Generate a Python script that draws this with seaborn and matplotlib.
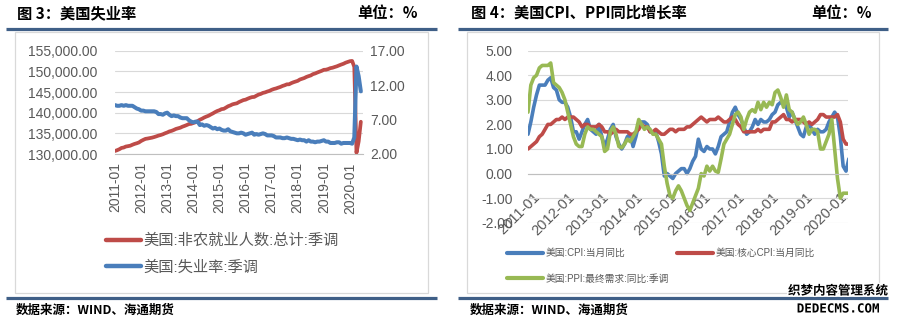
import numpy as np
import pandas as pd
import matplotlib
matplotlib.use("Agg")
import matplotlib.pyplot as plt
import seaborn as sns
import matplotlib.transforms as mtransforms
import matplotlib.patheffects as pe
from matplotlib.lines import Line2D
from matplotlib.patches import Rectangle
from matplotlib.ticker import FuncFormatter, FixedLocator

# ---------------- data ----------------
months = pd.period_range("2011-01", "2020-06", freq="M").strftime("%Y-%m").tolist()
year_ticks = ["2011-01", "2012-01", "2013-01", "2014-01", "2015-01",
              "2016-01", "2017-01", "2018-01", "2019-01", "2020-01"]

payrolls = [
    130733, 130922, 131157, 131467, 131568, 131808, 131902, 132006, 132240, 132444, 132600, 132794,
    133150, 133420, 133659, 133745, 133851, 133955, 134102, 134273, 134458, 134599, 134775, 135014,
    135204, 135464, 135597, 135812, 136064, 136216, 136364, 136614, 136801, 137015, 137247, 137306,
    137493, 137681, 137966, 138296, 138532, 138830, 139060, 139260, 139557, 139825, 140141, 140404,
    140592, 140861, 140934, 141236, 141559, 141756, 142016, 142158, 142265, 142575, 142804, 143043,
    143150, 143387, 143605, 143773, 143812, 144109, 144381, 144539, 144788, 144915, 145119, 145276,
    145535, 145727, 145862, 146055, 146228, 146467, 146636, 146858, 146872, 147143, 147359, 147534,
    147705, 148033, 148210, 148386, 148654, 148845, 149015, 149330, 149488, 149720, 149924, 150124,
    150373, 150406, 150564, 150776, 150881, 151058, 151224, 151444, 151652, 151837, 152098, 152282,
    152463, 152523, 151090, 130303, 133028, 137802]

unemployment = [
    9.1, 9.0, 9.0, 9.1, 9.0, 9.1, 9.0, 9.0, 9.0, 8.8, 8.6, 8.5,
    8.3, 8.3, 8.2, 8.2, 8.2, 8.2, 8.2, 8.1, 7.8, 7.8, 7.7, 7.9,
    8.0, 7.7, 7.5, 7.6, 7.5, 7.5, 7.3, 7.2, 7.2, 7.2, 6.9, 6.7,
    6.6, 6.7, 6.7, 6.2, 6.3, 6.1, 6.2, 6.1, 5.9, 5.7, 5.8, 5.6,
    5.7, 5.5, 5.4, 5.4, 5.6, 5.3, 5.2, 5.1, 5.0, 5.0, 5.1, 5.0,
    4.8, 4.9, 5.0, 5.1, 4.8, 4.9, 4.8, 4.9, 5.0, 4.9, 4.7, 4.7,
    4.7, 4.6, 4.4, 4.4, 4.4, 4.3, 4.3, 4.4, 4.3, 4.2, 4.2, 4.1,
    4.0, 4.1, 4.0, 4.0, 3.8, 4.0, 3.8, 3.8, 3.7, 3.8, 3.8, 3.9,
    4.0, 3.8, 3.8, 3.6, 3.6, 3.6, 3.7, 3.7, 3.5, 3.6, 3.6, 3.6,
    3.6, 3.5, 4.4, 14.7, 13.3, 11.1]

cpi = [
    1.6, 2.1, 2.7, 3.2, 3.6, 3.6, 3.6, 3.8, 3.9, 3.5, 3.4, 3.0,
    2.9, 2.9, 2.7, 2.3, 1.7, 1.7, 1.4, 1.7, 2.0, 2.2, 1.8, 1.7,
    1.6, 2.0, 1.5, 1.1, 1.4, 1.8, 2.0, 1.5, 1.2, 1.0, 1.2, 1.5,
    1.6, 1.1, 1.5, 2.0, 2.1, 2.1, 2.0, 1.7, 1.7, 1.7, 1.3, 0.8,
    -0.1, 0.0, -0.1, -0.2, 0.0, 0.1, 0.2, 0.2, 0.0, 0.2, 0.5, 0.7,
    1.4, 1.0, 0.9, 1.1, 1.0, 1.0, 0.8, 1.1, 1.5, 1.6, 1.7, 2.1,
    2.5, 2.7, 2.4, 2.2, 1.9, 1.6, 1.7, 1.9, 2.2, 2.0, 2.2, 2.1,
    2.1, 2.2, 2.4, 2.5, 2.8, 2.9, 2.9, 2.7, 2.3, 2.5, 2.2, 1.9,
    1.6, 1.5, 1.9, 2.0, 1.8, 1.6, 1.8, 1.7, 1.7, 1.8, 2.1, 2.3,
    2.5, 2.3, 1.5, 0.3, 0.1, 0.6]

core_cpi = [
    1.0, 1.1, 1.2, 1.3, 1.5, 1.6, 1.8, 2.0, 2.0, 2.1, 2.2, 2.2,
    2.3, 2.2, 2.3, 2.3, 2.3, 2.2, 2.1, 1.9, 2.0, 2.0, 1.9, 1.9,
    1.9, 2.0, 1.9, 1.7, 1.7, 1.6, 1.7, 1.8, 1.7, 1.7, 1.7, 1.7,
    1.6, 1.6, 1.7, 1.8, 2.0, 1.9, 1.9, 1.7, 1.7, 1.8, 1.7, 1.6,
    1.6, 1.7, 1.8, 1.8, 1.7, 1.8, 1.8, 1.8, 1.9, 1.9, 2.0, 2.1,
    2.2, 2.3, 2.2, 2.1, 2.2, 2.2, 2.2, 2.3, 2.2, 2.1, 2.1, 2.2,
    2.3, 2.2, 2.0, 1.9, 1.7, 1.7, 1.7, 1.7, 1.7, 1.8, 1.7, 1.8,
    1.8, 1.8, 2.1, 2.1, 2.2, 2.3, 2.4, 2.2, 2.2, 2.1, 2.2, 2.2,
    2.2, 2.1, 2.0, 2.1, 2.0, 2.1, 2.2, 2.4, 2.4, 2.3, 2.3, 2.3,
    2.3, 2.4, 2.1, 1.4, 1.2, 1.2]

ppi = [
    2.5, 3.6, 3.9, 4.0, 4.3, 4.4, 4.4, 4.4, 4.5, 3.7, 3.6, 3.5,
    3.3, 3.0, 2.5, 2.0, 1.5, 1.2, 1.1, 1.1, 1.6, 1.9, 1.8, 1.8,
    1.7, 1.6, 1.5, 0.9, 1.0, 1.7, 1.9, 1.6, 1.1, 1.05, 1.2, 1.4,
    1.3, 1.5, 1.7, 2.2, 2.0, 1.8, 1.9, 1.8, 1.6, 1.6, 1.4, 1.2,
    0.3, -0.4, -0.9, -1.0, -0.7, -0.5, -0.7, -1.0, -1.3, -1.5, -1.2, -0.9,
    -0.6, 0.0, -0.1, 0.3, 0.1, 0.3, 0.1, 0.05, 0.6, 1.2, 1.4, 1.6,
    2.0, 2.4, 2.5, 2.3, 1.8, 2.2, 2.5, 2.6, 2.5, 2.9, 2.6, 2.9,
    2.7, 2.9, 2.8, 3.3, 3.4, 3.1, 2.7, 3.2, 2.6, 2.5, 2.2, 2.0,
    2.1, 2.3, 2.0, 1.6, 1.8, 1.8, 1.7, 1.0, 1.0, 1.3, 1.6, 2.2,
    1.0, -0.2, -1.0, -0.8, -0.8, -0.8]

df = pd.DataFrame({"month": months, "m": np.arange(len(months)),
                   "payrolls": payrolls, "unemployment": unemployment,
                   "cpi": cpi, "core_cpi": core_cpi, "ppi": ppi})

# ---------------- style ----------------
sns.set_style("white")
plt.rcParams['font.family'] = ['Liberation Sans', 'Noto Sans CJK SC']
plt.rcParams['axes.unicode_minus'] = False

RED = "#BE4B48"
BLUE = "#4A7EBB"
GREEN = "#98B954"
GRID = "#D9D9D9"
AXC = "#BFBFBF"
TXT = "#595959"
RULE = "#3F5F87"
CJK_B = ['Noto Sans CJK SC']

W, H = 897, 323
fig = plt.figure(figsize=(W / 100, H / 100), dpi=100)
fig.patch.set_facecolor("white")


def rect(x0, y0, x1, y1):
    return [x0 / W, 1 - y1 / H, (x1 - x0) / W, (y1 - y0) / H]


def fx(x):
    return x / W


def fy(y):
    return 1 - y / H


# frames and rules
for (x0, x1) in [(15, 428), (467, 879)]:
    fig.add_artist(Rectangle((fx(x0), fy(293)), fx(x1) - fx(x0), fy(32) - fy(293),
                             transform=fig.transFigure, fill=False,
                             edgecolor="#D9D9D9", lw=0.9, zorder=0))
for (x0, x1) in [(6, 437), (458, 888)]:
    for y in (29, 298):
        fig.add_artist(Line2D([fx(x0), fx(x1)], [fy(y), fy(y)], transform=fig.transFigure,
                              color=RULE, lw=2.3, solid_capstyle="butt"))

# titles
fig.text(fx(17), fy(13), "图 3：美国失业率", family=CJK_B, weight="bold", fontsize=11,
         va="center", ha="left", color="black")
fig.text(fx(418), fy(13), "单位：%", family=CJK_B, weight="bold", fontsize=11,
         va="center", ha="right", color="black")
fig.text(fx(471), fy(13), "图 4：美国CPI、PPI同比增长率", family=CJK_B, weight="bold",
         fontsize=11, va="center", ha="left", color="black")
fig.text(fx(872), fy(13), "单位：%", family=CJK_B, weight="bold", fontsize=11,
         va="center", ha="right", color="black")
fig.text(fx(16), fy(310), "数据来源：WIND、海通期货", family=CJK_B, weight="bold", fontsize=9,
         va="center", ha="left", color="black")
fig.text(fx(470), fy(310), "数据来源：WIND、海通期货", family=CJK_B, weight="bold", fontsize=9,
         va="center", ha="left", color="black")

# ---------------- left chart ----------------
ax1 = fig.add_axes(rect(115, 50.7, 363, 154))
sns.lineplot(data=df, x="m", y="payrolls", ax=ax1, color=RED, lw=2.7,
             label="美国:非农就业人数:总计:季调", legend=False)
ax1.set_xlim(0, 114)
ax1.set_ylim(130000, 155000)
ax1.yaxis.set_major_locator(FixedLocator(list(range(130000, 155001, 5000))))
ax1.yaxis.set_major_formatter(FuncFormatter(lambda v, p: f"{v:,.2f}"))
ax1.grid(axis="y", color=GRID, lw=0.8)
ax1.set_axisbelow(True)
ax1.set_xticks([months.index(t) for t in year_ticks])
ax1.set_xticklabels(year_ticks, rotation=90, va="top", ha="center")
ax1.tick_params(axis="x", direction="out", length=4, width=0.8, color=AXC, pad=2,
                labelsize=10, labelcolor=TXT)
ax1.tick_params(axis="y", length=0, pad=13, labelsize=10, labelcolor=TXT)
for s in ("top", "left", "right"):
    ax1.spines[s].set_visible(False)
ax1.spines["bottom"].set_color(AXC)
ax1.spines["bottom"].set_linewidth(0.8)
ax1.set_xlabel("")
ax1.set_ylabel("")

ax2 = ax1.twinx()
sns.lineplot(data=df, x="m", y="unemployment", ax=ax2, color=BLUE, lw=2.9,
             label="美国:失业率:季调", legend=False)
ax2.set_ylim(2, 17)
ax2.yaxis.set_major_locator(FixedLocator([2, 7, 12, 17]))
ax2.yaxis.set_major_formatter(FuncFormatter(lambda v, p: f"{v:.2f}"))
ax2.tick_params(axis="y", length=0, pad=5, labelsize=10, labelcolor=TXT)
for s in ("top", "left", "right", "bottom"):
    ax2.spines[s].set_visible(False)
ax2.set_ylabel("")
ax2.set_xlim(0, 114)

h1 = ax1.get_lines()[0]
h2 = ax2.get_lines()[0]
leg1 = fig.legend([h1, h2], ["美国:非农就业人数:总计:季调", "美国:失业率:季调"],
                  loc="upper left", bbox_to_anchor=(fx(101), fy(229)), frameon=False,
                  fontsize=11, handlelength=2.3, handletextpad=0.15, labelspacing=0.8,
                  borderaxespad=0, borderpad=0.3)
for t in leg1.get_texts():
    t.set_color(TXT)
for l in leg1.get_lines():
    l.set_linewidth(3.2)

# ---------------- right chart ----------------
ax3 = fig.add_axes(rect(528, 50.7, 848, 222.7))
sns.lineplot(data=df, x="m", y="cpi", ax=ax3, color=BLUE, lw=2.6)
sns.lineplot(data=df, x="m", y="core_cpi", ax=ax3, color=RED, lw=2.6)
sns.lineplot(data=df, x="m", y="ppi", ax=ax3, color=GREEN, lw=2.6)
ax3.set_xlim(0, 112.7)
ax3.set_ylim(-2, 5)
ax3.yaxis.set_major_locator(FixedLocator(list(range(-2, 6))))
ax3.yaxis.set_major_formatter(FuncFormatter(lambda v, p: f"{v:.2f}"))
ax3.grid(axis="y", color=GRID, lw=0.8)
ax3.set_axisbelow(True)
ax3.spines["bottom"].set_position(("data", 0))
ax3.spines["bottom"].set_color(AXC)
ax3.spines["bottom"].set_linewidth(0.8)
for s in ("top", "left", "right"):
    ax3.spines[s].set_visible(False)
ax3.set_xticks([months.index(t) for t in year_ticks])
ax3.set_xticklabels(year_ticks, rotation=45, ha="right", va="top", rotation_mode="anchor")
ax3.tick_params(axis="x", direction="in", length=4, width=0.8, color=AXC, pad=12,
                labelsize=10.5, labelcolor=TXT)
ax3.tick_params(axis="y", length=0, pad=11, labelsize=10, labelcolor=TXT)
ax3.set_xlabel("")
ax3.set_ylabel("")
offset = mtransforms.ScaledTranslation(5 / 100, 0, fig.dpi_scale_trans)
for lab in ax3.get_xticklabels():
    lab.set_transform(lab.get_transform() + offset)

l_cpi, l_core, l_ppi = ax3.get_lines()[:3]
legA = fig.legend([l_cpi, l_ppi], ["美国:CPI:当月同比", "美国:PPI:最终需求:同比:季调"],
                  loc="upper left", bbox_to_anchor=(fx(504), fy(245)), frameon=False,
                  fontsize=7, handlelength=3.7, handletextpad=0.25, labelspacing=1.6,
                  borderaxespad=0, borderpad=0.3)
legB = fig.legend([l_core], ["美国:核心CPI:当月同比"],
                  loc="upper left", bbox_to_anchor=(fx(674), fy(245)), frameon=False,
                  fontsize=7, handlelength=3.7, handletextpad=0.25,
                  borderaxespad=0, borderpad=0.3)
for lg in (legA, legB):
    for t in lg.get_texts():
        t.set_color(TXT)
    for l in lg.get_lines():
        l.set_linewidth(3.0)

# watermark
fig.text(fx(838), fy(291), "织梦内容管理系统", family=CJK_B, weight="bold", fontsize=9,
         ha="center", va="center", color="black",
         path_effects=[pe.withStroke(linewidth=2, foreground="white")])
fig.text(fx(838), fy(309), "DEDECMS.COM", family=["DejaVu Sans Mono"], weight="bold",
         fontsize=9, ha="center", va="center", color="black",
         path_effects=[pe.withStroke(linewidth=2, foreground="white")])

fig.savefig("out.png", dpi=100, facecolor="white")
